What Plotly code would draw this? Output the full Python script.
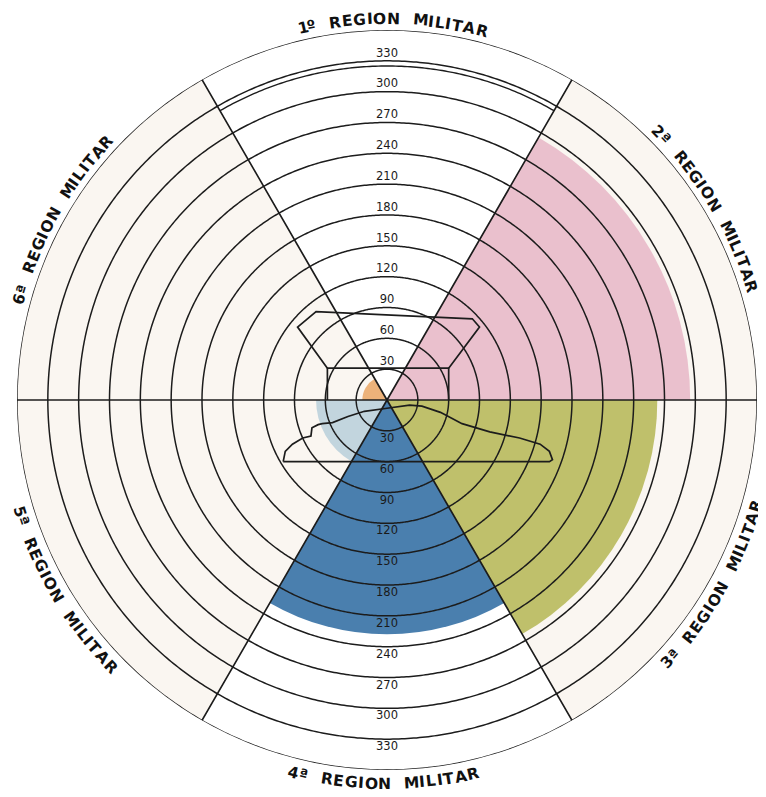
import numpy as np
import plotly.graph_objects as go

# ---------------- data ----------------
regions = ["1º REGION MILITAR", "2ª REGION MILITAR", "3ª REGION MILITAR",
           "4ª REGION MILITAR", "5ª REGION MILITAR", "6ª REGION MILITAR"]
sector_theta = [90, 30, 330, 270, 210, 150]          # sector centres (deg)
values = [325, 295, 263, 228, 69, 24]                 # radial values
value_colors = ["#ffffff", "#eac0cd", "#bfc06b", "#4a7fae", "#c2d5de", "#ecb27a"]
back_colors = ["#ffffff", "#faf6f1", "#faf6f1", "#ffffff", "#faf6f1", "#faf6f1"]
ring_values = [30, 60, 90, 120, 150, 180, 210, 240, 270, 300, 330]
ring_labels = [str(v) for v in ring_values]
r_max = 360
divider_angles = [0, 60, 120]
label_theta = [89, 31, -29.5, -90.5, 210.5, 151]

# central outline drawings (x east, y north, in radial units)
cup_x = [-58, -58, 60, 60, None, -58, -87, -69, 83, 90, 60]
cup_y = [0, 31, 31, 0, None, 31, 71, 86, 79, 71, 31]
hill_x = [-101, -99, -92, -82, -74, -73, -67, -63, -53, -38, -22, 0, 22,
          34, 52, 73, 100, 129, 149, 158, 161, 158, -101]
hill_y = [-60, -50, -43, -37, -35, -27, -24, -23, -22, -16, -11, -8, -5,
          -6, -12, -23, -31, -37, -43, -50, -58, -60, -60]

# ---------------- geometry ----------------
OFF = 8                       # page offset of the figure (body margin)
W, H = 766 - OFF, 797 - OFF
CX, CY, RPX = 387 - OFF, 400 - OFF, 370
dom_x = [(CX - RPX) / W, (CX + RPX) / W]
dom_y = [(H - CY - RPX) / H, (H - CY + RPX) / H]

fig = go.Figure()

# background sectors
fig.add_trace(go.Barpolar(r=[r_max] * 6, theta=sector_theta, width=[60] * 6,
                          marker=dict(color=back_colors, line=dict(width=0)),
                          hoverinfo="skip", showlegend=False))
# value sectors
fig.add_trace(go.Barpolar(r=values, theta=sector_theta, width=[60] * 6,
                          marker=dict(color=value_colors, line=dict(width=0)),
                          hoverinfo="skip", showlegend=False))

line_col = "#1c1c1c"
full = np.linspace(0, 360, 721)
for v in ring_values + [r_max]:
    fig.add_trace(go.Scatterpolar(r=[v] * len(full), theta=full, mode="lines",
                                  line=dict(color=line_col, width=1.5),
                                  cliponaxis=False, hoverinfo="skip", showlegend=False))

for a in divider_angles:
    fig.add_trace(go.Scatterpolar(r=[r_max, 0, r_max], theta=[a, a, a + 180], mode="lines",
                                  line=dict(color=line_col, width=1.7),
                                  cliponaxis=False, hoverinfo="skip", showlegend=False))

# region 1 value outline
arc = np.linspace(sector_theta[0] - 30, sector_theta[0] + 30, 121)
fig.add_trace(go.Scatterpolar(r=[values[0]] * len(arc), theta=arc, mode="lines",
                              line=dict(color=line_col, width=1.4),
                              hoverinfo="skip", showlegend=False))


def to_polar(xs, ys):
    rr, tt = [], []
    for x, y in zip(xs, ys):
        if x is None:
            rr.append(None); tt.append(None)
        else:
            rr.append(float(np.hypot(x, y)))
            tt.append(float(np.degrees(np.arctan2(y, x))))
    return rr, tt


for xs, ys in [(cup_x, cup_y), (hill_x, hill_y)]:
    rr, tt = to_polar(xs, ys)
    fig.add_trace(go.Scatterpolar(r=rr, theta=tt, mode="lines", connectgaps=False,
                                  line=dict(color=line_col, width=1.7),
                                  hoverinfo="skip", showlegend=False))

# ring labels top and bottom
for side, off in ((90, 7), (270, 8)):
    fig.add_trace(go.Scatterpolar(r=[v + off for v in ring_values], theta=[side] * len(ring_values),
                                  mode="text", text=ring_labels,
                                  textfont=dict(family="DejaVu Sans", size=11.5, color="#1a1a1a"),
                                  hoverinfo="skip", showlegend=False))

# curved region titles
char_w = {" ": 12, "I": 5.5, "M": 13.5, "1": 8, "º": 7, "ª": 7, "L": 9.5, "T": 10.5,
          "E": 10.5, "G": 12, "O": 12.5, "N": 12, "R": 11.5, "A": 11.5}
annotations = []
for name, phi_c in zip(regions, label_theta):
    upper = 0 < phi_c < 180
    R_LAB = 381 if upper else 384
    widths = [char_w.get(c, 10.5) + 1.2 for c in name]
    total = sum(widths)
    pos = np.cumsum(widths) - np.array(widths) / 2 - total / 2
    for c, s in zip(name, pos):
        if c == " ":
            continue
        dphi = np.degrees(s / R_LAB)
        phi = phi_c - dphi if upper else phi_c + dphi
        px = CX + R_LAB * np.cos(np.radians(phi))
        py = CY - R_LAB * np.sin(np.radians(phi))
        ang = 90 - phi if upper else -90 - phi
        annotations.append(dict(x=px / W, y=1 - py / H, xref="paper", yref="paper",
                                text=c, showarrow=False, textangle=ang,
                                xanchor="center", yanchor="middle",
                                font=dict(family="DejaVu Sans", size=15.5, color="#111",
                                          weight="bold")))

fig.update_layout(
    width=W, height=H, margin=dict(l=0, r=0, t=0, b=0),
    paper_bgcolor="white", showlegend=False,
    annotations=annotations,
    polar=dict(
        domain=dict(x=dom_x, y=dom_y),
        bgcolor="rgba(0,0,0,0)",
        bargap=0,
        barmode="overlay",
        radialaxis=dict(range=[0, r_max], visible=False, showgrid=False),
        angularaxis=dict(visible=False, showgrid=False, rotation=0,
                         direction="counterclockwise"),
    ),
)

fig.write_html("out.html")
